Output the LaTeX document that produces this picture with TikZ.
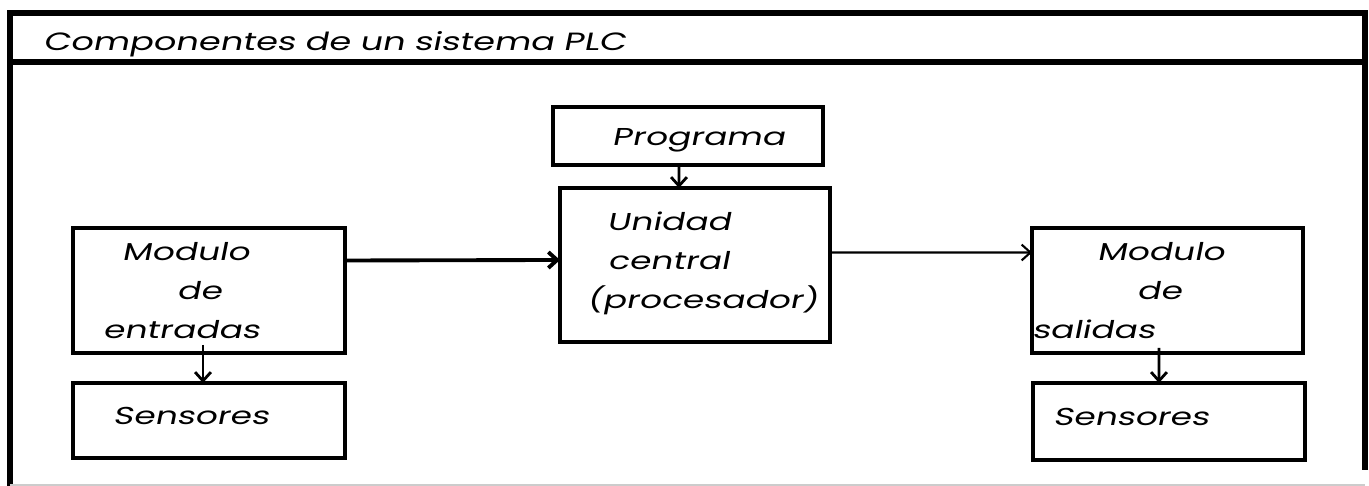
\documentclass[tikz,border=0pt]{standalone}
\usepackage{fontspec}
\newfontfamily\plcfont[FakeStretch=1.41, FakeSlant=0.2]{Poppins}
\usetikzlibrary{positioning, arrows.meta}

\begin{document}
\begin{tikzpicture}
    [x = 0.02cm, y = -0.02cm, outer sep = 0pt,
    component/.style={rectangle, draw=black, line width = 2pt, anchor = north
      west, inner sep = 0pt, align = left, font = \plcfont\fontsize{13.9}{22.2}\selectfont},
    link/.style={-{Straight Barb[length=5pt, width=9pt]}, line width = 1.6pt}]
    \useasboundingbox (0,0) rectangle (1369,486);
    % frame and title bar
    \draw [line width = 3.4pt] (10,486) -- (10,13) -- (1365,13) -- (1365,470);
    \draw [line width = 3pt] (10,62) -- (1365,62);
    \draw [gray!40, line width = 1pt] (10,485) -- (1365,485);
    \node (title) [anchor = base west, inner sep = 0pt, font =
    \plcfont\fontsize{14.2}{22.2}\selectfont] at (43,51) {Componentes de un sistema PLC};
    % boxes
    \node (programa) [component, text width = 5.4cm, minimum height = 1.16cm, text height = 15pt] at (553,107)
    {\hspace*{1.18cm}Programa};
    \node (unidad) [component, text width = 5.4cm, minimum height = 3.08cm, text depth = 1.74cm] at (560,188)
    {\hspace*{0.94cm}Unidad\\ \hspace*{0.96cm}central\\ \hspace*{0.54cm}(procesador)};
    \node (entradas) [component, text width = 5.44cm, minimum height = 2.5cm] at (73,228)
    {\hspace*{0.98cm}Modulo\\ \hspace*{2.08cm}de\\ \hspace*{0.6cm}entradas};
    \node (salidas) [component, text width = 5.42cm, minimum height = 2.5cm] at (1032,228)
    {\hspace*{1.3cm}Modulo\\ \hspace*{2.1cm}de\\ salidas};
    \node (sensores_in) [component, text width = 5.44cm, minimum height = 1.5cm, text depth = 0.2cm] at (73,383)
    {\hspace*{0.8cm}Sensores};
    \node (sensores_out) [component, text width = 5.44cm, minimum height = 1.54cm, text depth = 0.2cm] at (1033,383)
    {\hspace*{0.4cm}Sensores};
    % connections
    \draw [link] ([xshift=-0.18cm]programa.south) -- ([xshift=-0.32cm]unidad.north);
    \draw [link, line width = 2.2pt] ([yshift=0.6cm]entradas.east) -- ([yshift=0.1cm]unidad.west);
    \draw [link, line width = 1.2pt] ([yshift=0.25cm]unidad.east) -- ([yshift=0.76cm]salidas.west);
    \draw [link] ([xshift=-0.12cm, yshift=0.16cm]entradas.south) -- ([xshift=-0.12cm]sensores_in.north);
    \draw [link] ([xshift=-0.17cm, yshift=0.1cm]salidas.south) -- ([xshift=-0.2cm]sensores_out.north);
  \end{tikzpicture}
\end{document}
